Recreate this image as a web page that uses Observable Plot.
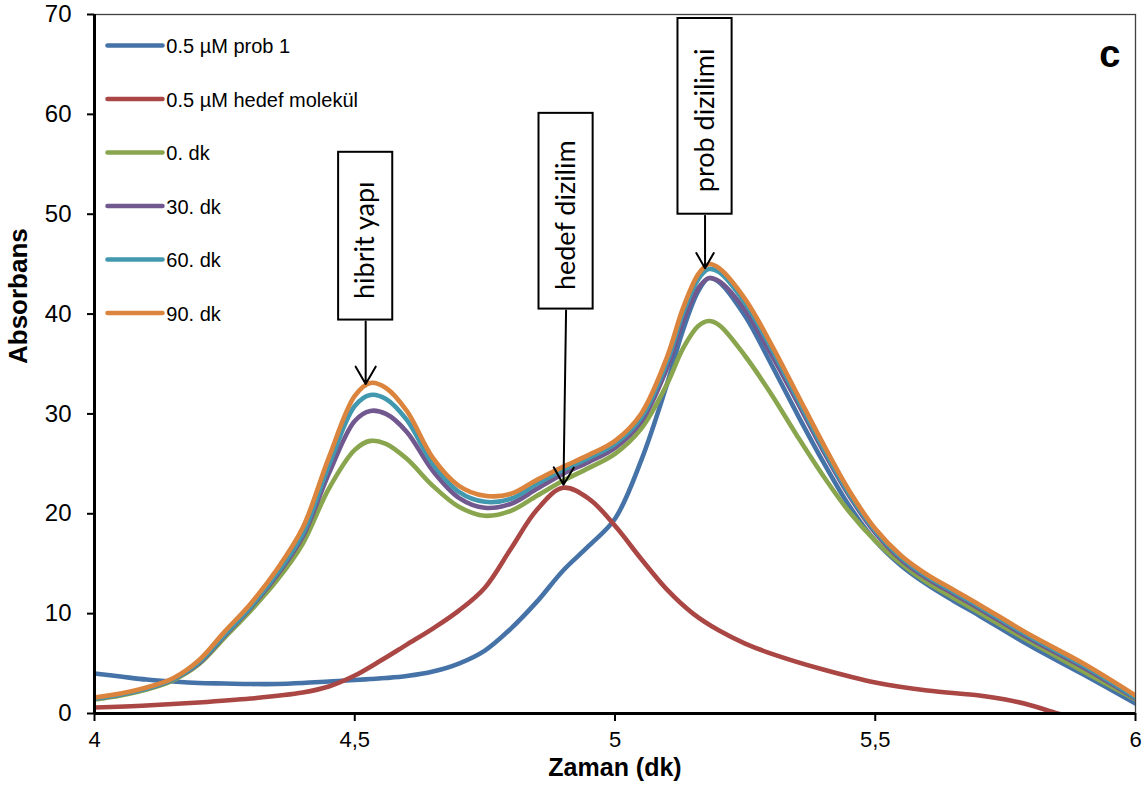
<!DOCTYPE html>
<html>
<head>
<meta charset="utf-8">
<script src="https://cdn.jsdelivr.net/npm/d3@7"></script>
<script src="https://cdn.jsdelivr.net/npm/@observablehq/plot@0.6"></script>
<style>
  html, body { margin: 0; padding: 0; background: #fff; }
  #chart { width: 1146px; height: 787px; }
</style>
</head>
<body>
<div id="chart"></div>
<script>
// ---- Data ----
const seriesNames = ["0.5 µM prob 1", "0.5 µM hedef molekül", "0. dk", "30. dk", "60. dk", "90. dk"];
const seriesColors = ["#4572A7", "#AA4643", "#89A54E", "#71588F", "#4198AF", "#DB843D"];

const xTicks = [4, 4.5, 5, 5.5, 6];
const yTicks = [0, 10, 20, 30, 40, 50, 60, 70];

// time (dk) grid for prob and hybrid series
const timeT = [4.0, 4.05, 4.1, 4.15, 4.2, 4.25, 4.3, 4.35, 4.4, 4.45,
               4.5, 4.53, 4.56, 4.6, 4.65, 4.7, 4.75, 4.8, 4.85, 4.9,
               4.95, 5.0, 5.05, 5.1, 5.13, 5.16, 5.18, 5.2, 5.25, 5.3,
               5.35, 5.4, 5.45, 5.5, 5.55, 5.6, 5.65, 5.7, 5.8, 5.9, 6.0];

const prob1 = [4.0, 3.7, 3.4, 3.2, 3.05, 3.0, 2.95, 2.95, 3.05, 3.2,
               3.35, 3.45, 3.55, 3.75, 4.2, 5.0, 6.3, 8.5, 11.2, 14.3,
               16.8, 19.5, 25.3, 33.0, 38.3, 42.3, 43.6, 43.2, 39.8, 35.0,
               30.0, 25.2, 20.8, 17.3, 14.8, 12.9, 11.3, 9.8, 6.7, 3.9, 1.0];

const dk0 = [1.4, 1.8, 2.4, 3.3, 4.9, 7.6, 10.3, 13.3, 17.0, 22.5,
             26.4, 27.3, 27.0, 25.5, 22.8, 20.7, 19.8, 20.3, 21.8, 23.3,
             24.6, 26.0, 28.5, 33.0, 36.5, 38.8, 39.3, 38.9, 35.8, 32.0,
             27.8, 23.8, 20.2, 17.3, 15.0, 13.1, 11.6, 10.1, 7.1, 4.2, 1.4];

const dk30 = [1.5, 1.9, 2.5, 3.4, 5.0, 7.8, 10.6, 13.8, 17.7, 24.0,
              29.3, 30.3, 30.0, 28.2, 24.3, 21.6, 20.6, 21.0, 22.5, 24.0,
              25.2, 26.6, 29.2, 34.6, 39.2, 42.6, 43.6, 43.3, 40.4, 36.0,
              31.2, 26.3, 21.8, 18.1, 15.4, 13.5, 12.0, 10.5, 7.4, 4.6, 1.5];

const dk60 = [1.5, 1.9, 2.5, 3.4, 5.1, 7.9, 10.7, 14.0, 18.0, 24.8,
              30.8, 31.9, 31.5, 29.4, 25.0, 22.2, 21.2, 21.5, 23.0, 24.4,
              25.6, 27.0, 29.6, 35.2, 40.0, 43.5, 44.5, 44.2, 41.1, 36.6,
              31.6, 26.6, 22.0, 18.3, 15.6, 13.7, 12.2, 10.7, 7.6, 4.8, 1.6];

const dk90 = [1.6, 2.0, 2.6, 3.5, 5.3, 8.2, 11.0, 14.4, 18.6, 25.6,
              31.8, 33.1, 32.6, 30.3, 25.6, 22.8, 21.8, 22.0, 23.4, 24.7,
              25.9, 27.3, 30.0, 35.7, 40.5, 44.0, 45.0, 44.6, 41.5, 37.0,
              32.0, 27.0, 22.3, 18.5, 15.8, 13.9, 12.4, 10.9, 7.8, 5.0, 1.8];

// target molecule series
const hedefT = [4.0, 4.1, 4.2, 4.3, 4.4, 4.45, 4.5, 4.55, 4.6, 4.65,
                4.7, 4.75, 4.8, 4.85, 4.9, 4.95, 5.0, 5.05, 5.1, 5.15,
                5.2, 5.25, 5.3, 5.4, 5.5, 5.6, 5.7, 5.75, 5.8, 5.85, 5.88];
const hedef = [0.6, 0.8, 1.1, 1.5, 2.1, 2.7, 3.8, 5.3, 6.9, 8.5,
               10.3, 12.6, 16.5, 20.4, 22.6, 21.5, 18.8, 15.5, 12.4, 10.0,
               8.3, 7.0, 6.0, 4.4, 3.1, 2.3, 1.8, 1.4, 0.8, 0.0, -0.4];

// annotations (label, arrow tip at the peak it points to)
const annLabels = ["hibrit yapı", "hedef dizilim", "prob dizilimi"];
const annX      = [4.521, 4.906, 5.173];
const annTipX   = [4.521, 4.901, 5.173];
const annTip    = [33.0, 22.9, 44.6];
const annBoxTop = [56.2, 60.1, 69.6];
const annBoxBot = [39.4, 40.5, 50.0];

// ---- Build tables ----
const rows = [];
const push = (name, ts, vs) => ts.forEach((t, i) => rows.push({series: name, t, v: vs[i]}));
push(seriesNames[0], timeT, prob1);
push(seriesNames[1], hedefT, hedef);
push(seriesNames[2], timeT, dk0);
push(seriesNames[3], timeT, dk30);
push(seriesNames[4], timeT, dk60);
push(seriesNames[5], timeT, dk90);

const legendRows = seriesNames.map((name, i) => ({name, ly: 66.9 - i * 5.36}));
const ann = annLabels.map((label, i) => ({
  label, x: annX[i], tipX: annTipX[i], tip: annTip[i], top: annBoxTop[i], bot: annBoxBot[i]
}));

const halfBox = 0.052;

const chart = Plot.plot({
  width: 1146,
  height: 787,
  marginLeft: 94,
  marginRight: 11,
  marginTop: 14,
  marginBottom: 74,
  x: {domain: [4, 6]},
  y: {domain: [0, 70]},
  color: {domain: seriesNames, range: seriesColors},
  style: {
    fontFamily: "'Liberation Sans', Arial, sans-serif",
    fontSize: "23px",
    color: "#000",
    background: "#fff",
    overflow: "visible"
  },
  marks: [
    Plot.frame({stroke: "#404040", strokeWidth: 1.3}),
    Plot.line(rows, {
      x: "t", y: "v", z: "series", stroke: "series",
      strokeWidth: 4.6, curve: "catmull-rom", clip: true,
      strokeLinejoin: "round", strokeLinecap: "round"
    }),
    Plot.axisY({ticks: yTicks, tickSize: 7, tickPadding: 16, tickFormat: d => String(d),
                label: null, strokeWidth: 2, fontSize: 24}),
    Plot.axisX({ticks: xTicks, tickSize: 8, tickPadding: 10,
                tickFormat: d => String(d).replace(".", ","),
                label: null, strokeWidth: 2, fontSize: 22}),
    Plot.ruleX([4], {strokeWidth: 3, stroke: "#000"}),
    Plot.ruleY([0], {strokeWidth: 3, stroke: "#000"}),
    // legend
    Plot.link(legendRows, {
      x1: () => 4.025, x2: () => 4.1306, y1: "ly", y2: "ly",
      stroke: "name", strokeWidth: 4.6, strokeLinecap: "round"
    }),
    Plot.text(legendRows, {
      x: () => 4.138, y: "ly", text: "name", textAnchor: "start",
      fontSize: 20, dy: 1.5, fill: "#000"
    }),
    // annotations
    Plot.rect(ann, {
      x1: d => d.x - halfBox, x2: d => d.x + halfBox, y1: "bot", y2: "top",
      fill: "#fff", stroke: "#000", strokeWidth: 2
    }),
    Plot.text(ann, {
      x: "x", y: d => (d.top + d.bot) / 2, text: "label", rotate: -90,
      fontFamily: "Lato, 'Open Sans', sans-serif", fontSize: 27, dy: 4, fill: "#000"
    }),
    Plot.arrow(ann, {
      x1: "x", y1: d => d.bot - 0.15, x2: "tipX", y2: "tip",
      stroke: "#000", strokeWidth: 2, headLength: 15, headAngle: 60
    }),
    // titles
    Plot.text(["Zaman (dk)"], {
      frameAnchor: "bottom", dy: 62, fontSize: 25, fontWeight: "bold", fill: "#000"
    }),
    Plot.text(["Absorbans"], {
      frameAnchor: "left", dx: -76, rotate: -90, fontSize: 26, fontWeight: "bold", fill: "#000"
    }),
    Plot.text(["c"], {
      frameAnchor: "top-right", dx: -15, dy: 26, fontSize: 38, fontWeight: "bold", fill: "#000"
    })
  ]
});

document.getElementById("chart").appendChild(chart);
</script>
</body>
</html>
